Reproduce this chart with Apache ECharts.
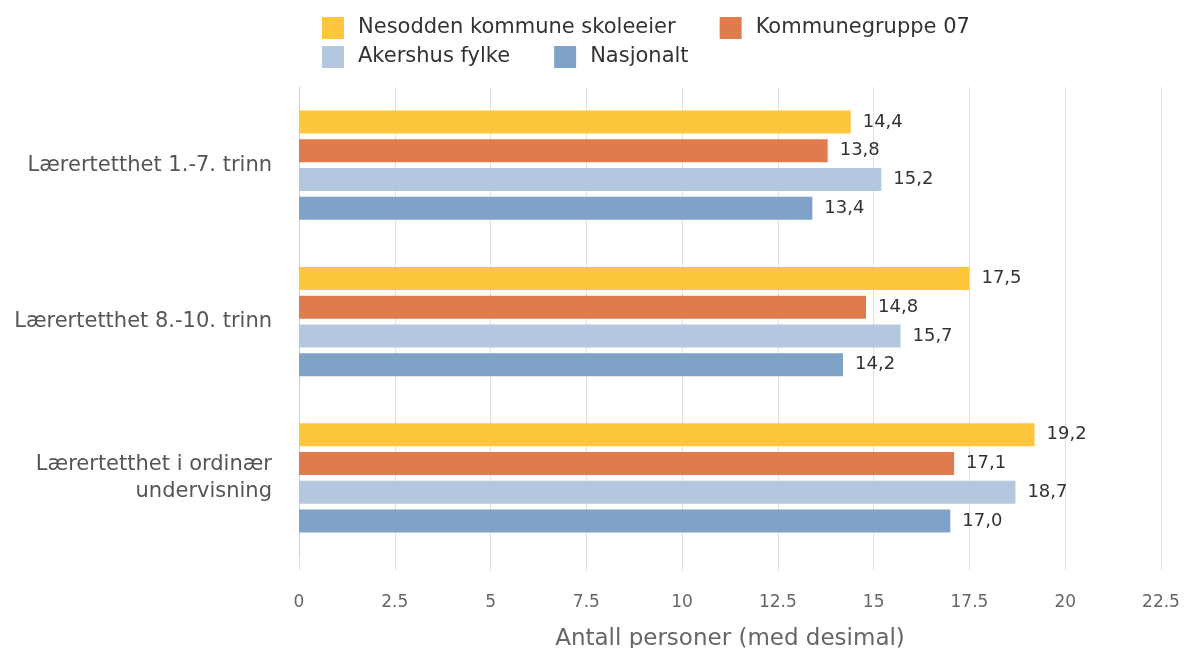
<!DOCTYPE html>
<html>
<head>
<meta charset="utf-8">
<script src="https://cdn.jsdelivr.net/npm/echarts@6/dist/echarts.min.js"></script>
<style>
  html, body { margin: 0; padding: 0; background: #fff; }
  #chart { width: 1184px; height: 648px; }
</style>
</head>
<body>
<div id="chart"></div>
<script>
const categories = [
  'Lærertetthet 1.-7. trinn',
  'Lærertetthet 8.-10. trinn',
  'Lærertetthet i ordinær\nundervisning'
]
const seriesNames = ['Nesodden kommune skoleeier', 'Kommunegruppe 07', 'Akershus fylke', 'Nasjonalt']
const nesodden = [14.4, 17.5, 19.2]
const kommunegruppe = [13.8, 14.8, 17.1]
const akershus = [15.2, 15.7, 18.7]
const nasjonalt = [13.4, 14.2, 17.0]
const xTicks = [0, 2.5, 5, 7.5, 10, 12.5, 15, 17.5, 20, 22.5]

const colors = ['#fec63d', '#df7b4d', '#b3c8de', '#7fa3c8']
const font = 'DejaVu Sans'

const chart = echarts.init(document.getElementById('chart'))

// en serie per region, verdier med komma
function makeSeries(name, data, color) {
  return {
    name: name,
    type: 'bar',
    data: data,
    barWidth: 23,
    barGap: '25%',
    itemStyle: { color: color },
    label: {
      show: true,
      position: 'right',
      distance: 12,
      color: '#333',
      fontFamily: font,
      fontSize: 18,
      formatter: p => p.value.toFixed(1).replace('.', ',')
    }
  }
}

const legendText = { color: '#333', fontFamily: font, fontSize: 21, padding: [0, 0, 0, 9] }

chart.setOption({
  animation: false,
  textStyle: { fontFamily: font },
  legend: [
    {
      data: [seriesNames[0], seriesNames[1]],
      left: 317, top: 12,
      icon: 'rect', itemWidth: 22, itemHeight: 22, itemGap: 44,
      textStyle: legendText
    },
    {
      data: [seriesNames[2], seriesNames[3]],
      left: 317, top: 41,
      icon: 'rect', itemWidth: 22, itemHeight: 22, itemGap: 44,
      textStyle: legendText
    }
  ],
  grid: { left: 299, right: 23, top: 87, bottom: 92, outerBoundsMode: 'none' },
  xAxis: {
    type: 'value',
    min: xTicks[0],
    max: xTicks[xTicks.length - 1],
    interval: 2.5,
    name: 'Antall personer (med desimal)',
    nameLocation: 'middle',
    nameGap: 72,
    nameTextStyle: { color: '#666', fontFamily: font, fontSize: 23 },
    axisLine: { show: false },
    axisTick: { show: true, length: 14, lineStyle: { color: '#e0e0e0' } },
    axisLabel: { color: '#666', fontFamily: font, fontSize: 17, margin: 38 },
    splitLine: { lineStyle: { color: '#e0e0e0' } }
  },
  yAxis: {
    type: 'category',
    data: categories,
    inverse: true,
    axisLine: { lineStyle: { color: '#c3cfe6' } },
    axisTick: { length: 13, lineStyle: { color: '#c3cfe6' } },
    axisLabel: {
      color: '#555', fontFamily: font, fontSize: 21, margin: 27,
      align: 'right', lineHeight: 27, padding: [14, 0, 0, 0]
    }
  },
  series: [
    makeSeries(seriesNames[0], nesodden, colors[0]),
    makeSeries(seriesNames[1], kommunegruppe, colors[1]),
    makeSeries(seriesNames[2], akershus, colors[2]),
    makeSeries(seriesNames[3], nasjonalt, colors[3])
  ]
})
</script>
</body>
</html>
